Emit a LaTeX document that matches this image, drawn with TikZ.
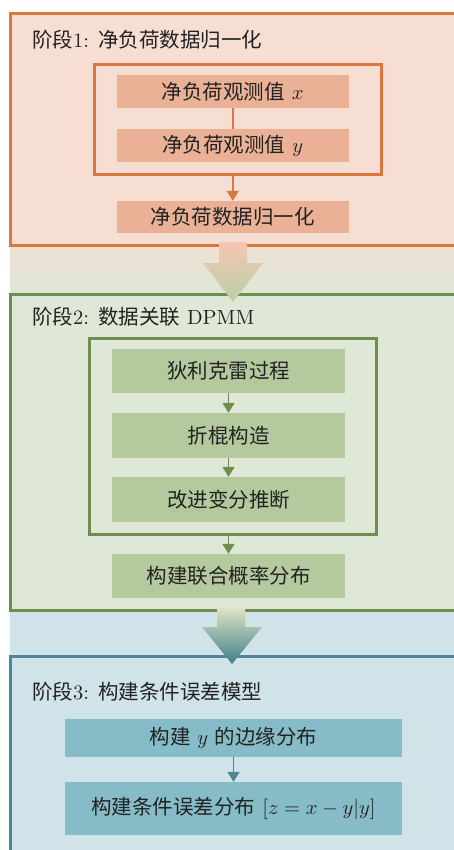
\documentclass[tikz,border=0pt]{standalone}
\usepackage{fontspec}
\usepackage{graphicx}
\newfontfamily\cjk{Noto Sans CJK SC}
\usetikzlibrary{arrows.meta}
\definecolor{sAfill}{HTML}{F7DED2}
\definecolor{sAline}{HTML}{D9773F}
\definecolor{sAnode}{HTML}{EAB196}
\definecolor{sBfill}{HTML}{DFE7D7}
\definecolor{sBline}{HTML}{6E8D4E}
\definecolor{sBnode}{HTML}{B5C99E}
\definecolor{sCfill}{HTML}{D0E3E8}
\definecolor{sCline}{HTML}{4D8797}
\definecolor{sCnode}{HTML}{86BCC7}
\definecolor{txt}{HTML}{222222}
\definecolor{arAtop}{HTML}{F5C6B4}
\definecolor{arAbot}{HTML}{B8D0A6}
\definecolor{arBtop}{HTML}{E0E4C6}
\definecolor{arBmid}{HTML}{A9C29D}
\definecolor{arBbot}{HTML}{3F7F8B}
\newcommand\fsz{\fontsize{10}{12}\selectfont}
\newcommand\TT[1]{\scalebox{2.05}{#1}}
\begin{document}
\begin{tikzpicture}[x=1pt,y=-1pt,
  stagebox/.style={rectangle, line width=3pt, inner sep=0pt},
  innerbox/.style={rectangle, draw, line width=3pt, inner sep=0pt},
  procbox/.style={rectangle, inner sep=0pt, font=\fsz, text=txt},
  title/.style={anchor=west, inner sep=0pt, font=\fsz, text=txt},
  conn/.style={line width=1.6pt, -{Triangle[width=12pt,length=10pt]}}]
\useasboundingbox (0,0) rectangle (454,850);
\clip (0,0) rectangle (454,850);
% gaps between stages
\shade[top color=sAfill!60!sBfill, bottom color=sBfill] (10,245.5) rectangle (470,294);
\fill[sCfill] (10,610.5) rectangle (470,656.5);
% stage frames
\node[stagebox, fill=sAfill, draw=sAline, minimum width=460pt, minimum height=231.5pt] (st1) at (240,129.75) {};
\node[stagebox, fill=sBfill, draw=sBline, minimum width=460pt, minimum height=316.5pt] (st2) at (240,452.25) {};
\node[stagebox, fill=sCfill, draw=sCline, minimum width=460pt, minimum height=210pt] (st3) at (240,761.5) {};
% titles
\node[title] (t1) at (32,40) {\TT{{\cjk 阶段}1: {\cjk 净负荷数据归一化}}};
\node[title] (t2) at (32,317) {\TT{{\cjk 阶段}2: {\cjk 数据关联} DPMM}};
\node[title] (t3) at (32,692) {\TT{{\cjk 阶段}3: {\cjk 构建条件误差模型}}};
% stage 1
\node[innerbox, draw=sAline, minimum width=287pt, minimum height=110pt] (in1) at (238,120) {};
\node[procbox, fill=sAnode, minimum width=232.5pt, minimum height=33pt] (a1) at (232.75,91.5) {\TT{{\cjk 净负荷观测值} $x$}};
\node[procbox, fill=sAnode, minimum width=232.5pt, minimum height=33pt] (a2) at (232.75,145.5) {\TT{{\cjk 净负荷观测值} $y$}};
\node[procbox, fill=sAnode, minimum width=232.5pt, minimum height=32pt] (a3) at (232.75,217) {\TT{\cjk 净负荷数据归一化}};
\draw[sAline, line width=1.6pt] (a1) -- (a2);
\draw[conn, sAline] (a3.north |- in1.south) -- (a3.north);
% stage 2
\node[innerbox, draw=sBline, minimum width=287.5pt, minimum height=195.5pt] (in2) at (232.75,436.25) {};
\node[procbox, fill=sBnode, minimum width=233pt, minimum height=44pt] (b1) at (228.5,371) {\TT{\cjk 狄利克雷过程}};
\node[procbox, fill=sBnode, minimum width=233pt, minimum height=45pt] (b2) at (228.5,435.5) {\TT{\cjk 折棍构造}};
\node[procbox, fill=sBnode, minimum width=233pt, minimum height=45pt] (b3) at (228.5,499.5) {\TT{\cjk 改进变分推断}};
\node[procbox, fill=sBnode, minimum width=233pt, minimum height=44pt] (b4) at (228.5,576) {\TT{\cjk 构建联合概率分布}};
\draw[conn, sBline] (b1) -- (b2);
\draw[conn, sBline] (b2) -- (b3);
\draw[conn, sBline] (b4.north |- in2.south) -- (b4.north);
% stage 3
\node[procbox, fill=sCnode, minimum width=337pt, minimum height=38pt] (c1) at (233.5,738) {\TT{{\cjk 构建} $y$ {\cjk 的边缘分布}}};
\node[procbox, fill=sCnode, minimum width=337pt, minimum height=53pt] (c2) at (233.5,808.5) {\TT{{\cjk 构建条件误差分布} $[z=x-y|y]$}};
\draw[conn, sCline] (c1) -- (c2);
% big arrows between stages
\coordinate (g1) at (233,302);
\coordinate (g2) at (232,664);
\shade[top color=arAtop, bottom color=arAbot]
  (219,242) -- (247,242) -- (247,263) -- (263,263) -- (g1) -- (203,263) -- (219,263) -- cycle;
\shade[top color=arBtop, middle color=arBmid, bottom color=arBbot]
  (217,607) -- (245,607) -- (245,627) -- (262,627) -- (g2) -- (202,627) -- (217,627) -- cycle;
\end{tikzpicture}
\end{document}
